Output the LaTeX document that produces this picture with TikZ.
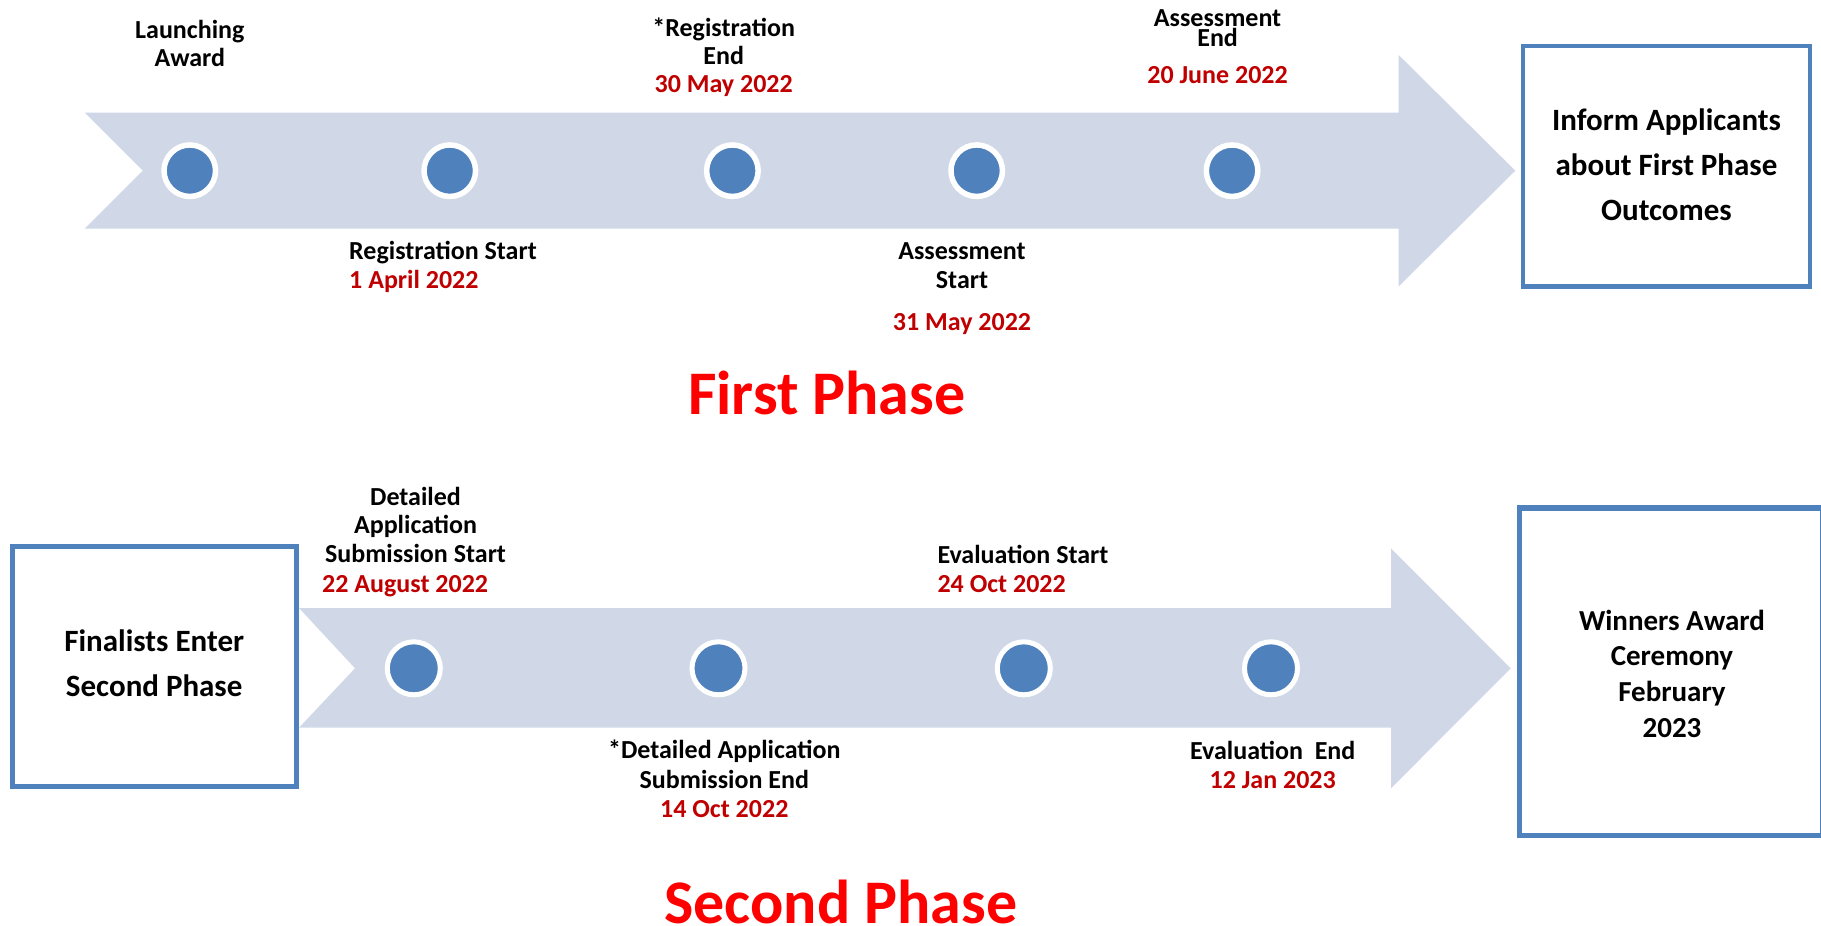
\documentclass[tikz,border=0pt]{standalone}
\usepackage{fontspec}
\setmainfont{Carlito}
\definecolor{arrowfill}{HTML}{D0D8E8}
\definecolor{dotblue}{HTML}{4F81BD}
\definecolor{boxblue}{HTML}{4F81BD}
\definecolor{datered}{HTML}{C00000}
\definecolor{titlered}{HTML}{FF0000}
\tikzset{
  dotA/.style={circle, fill=dotblue, draw=white, line width=5.5pt, minimum size=51.5pt, inner sep=0pt},
  dotB/.style={circle, fill=dotblue, draw=white, line width=5pt, minimum size=53pt, inner sep=0pt},
  lbl/.style={inner sep=0pt, anchor=base, align=center, font=\bfseries\fontsize{26}{28.6}\selectfont},
  lbll/.style={inner sep=0pt, anchor=base west, align=left, font=\bfseries\fontsize{26}{28.6}\selectfont},
  date/.style={text=datered},
  phasetitle/.style={inner sep=0pt, anchor=base, text=titlered, font=\bfseries\fontsize{62}{70}\selectfont},
  infobox/.style={draw=boxblue, line width=4.8pt, fill=white, inner sep=0pt},
  boxtext/.style={inner sep=0pt, anchor=base, align=center},
  arrowshape/.style={fill=arrowfill, draw=none}
}
\begin{document}
\begin{tikzpicture}[x=1pt, y=-1pt]
\useasboundingbox (0,0) rectangle (1821,926);
% ---------- first phase arrow ----------
\path[arrowshape] (84.7,112.7) -- (1398.7,112.7) -- (1398.7,55) -- (1515.3,170.7) -- (1398.7,286.3) -- (1398.7,228.7) -- (84.7,228.7) -- (142.8,170.7) -- cycle;
\node[dotA] (a1) at (189.8,170.7) {};
\node[dotA] (a2) at (449.8,170.7) {};
\node[dotA] (a3) at (732.4,170.7) {};
\node[dotA] (a4) at (976.7,170.7) {};
\node[dotA] (a5) at (1232.1,170.7) {};
% labels (anchor base = baseline of the last line)
\node[lbl, font=\bfseries\fontsize{26}{28.3}\selectfont] (launch) at (189.8,66.7) {Launching\\Award};
\node[lbl, font=\bfseries\fontsize{26}{28}\selectfont] (regend) at (723.7,92.7) {*Registration\\End\\\textcolor{datered}{30 May 2022}};
\node[lbll] (regstart) at (349,288.5) {Registration Start\\\textcolor{datered}{1 April 2022}};
\node[lbl] (assstart) at (962,288.5) {Assessment\\Start};
\node[lbl, date] (assstartdate) at (962,330) {31 May 2022};
\node[lbl, font=\bfseries\fontsize{26}{20}\selectfont] (assend) at (1217.6,46.7) {Assessment\\End};
\node[lbl, date] (assenddate) at (1217.6,83.4) {20 June 2022};
% box
\node[infobox, minimum width=287pt, minimum height=240.5pt] (inform) at (1666.5,166.3) {};
\node[boxtext, font=\bfseries\fontsize{31}{45}\selectfont] (informtext) at (1666.5,220) {Inform Applicants\\about First Phase\\Outcomes};
\node[phasetitle] (phase1) at (826.7,414) {First Phase};
% ---------- second phase arrow ----------
\path[arrowshape] (299,608) -- (1391,608) -- (1391,548.3) -- (1510.7,668.3) -- (1391,788.3) -- (1391,727.7) -- (299,727.7) -- (355,668.3) -- cycle;
\node[dotB] (b1) at (413.8,668.3) {};
\node[dotB] (b2) at (718.5,668.3) {};
\node[dotB] (b3) at (1023.8,668.3) {};
\node[dotB] (b4) at (1271,668.3) {};
\node[infobox, line width=5pt, minimum width=284pt, minimum height=240.5pt] (finalists) at (154.5,666.3) {};
\node[boxtext, font=\bfseries\fontsize{31}{45}\selectfont] (finaliststext) at (154.2,696.7) {Finalists Enter\\Second Phase};
\node[infobox, line width=5.5pt, minimum width=303.5pt, minimum height=327.5pt] (winners) at (1671.3,671.8) {};
\node[boxtext, font=\bfseries\fontsize{29}{35.6}\selectfont] (winnerstext) at (1672,737) {Winners Award\\Ceremony\\February\\2023};
% labels
\node[lbl, font=\bfseries\fontsize{26}{28.8}\selectfont] (detstart) at (415.5,562.6) {Detailed\\Application\\Submission Start};
\node[lbll, date] (detstartdate) at (322,592.7) {22 August 2022};
\node[lbl, font=\bfseries\fontsize{26}{29.7}\selectfont] (detend) at (724.3,817.8) {*Detailed Application\\Submission End\\\textcolor{datered}{14 Oct 2022}};
\node[lbll, font=\bfseries\fontsize{26}{29.3}\selectfont] (evalstart) at (937.3,592.7) {Evaluation Start\\\textcolor{datered}{24 Oct 2022}};
\node[lbl, font=\bfseries\fontsize{26}{29}\selectfont] (evalend) at (1272.7,788.4) {Evaluation\ \ End\\\textcolor{datered}{12 Jan 2023}};
\node[phasetitle] (phase2) at (840.8,923.5) {Second Phase};
\end{tikzpicture}
\end{document}
